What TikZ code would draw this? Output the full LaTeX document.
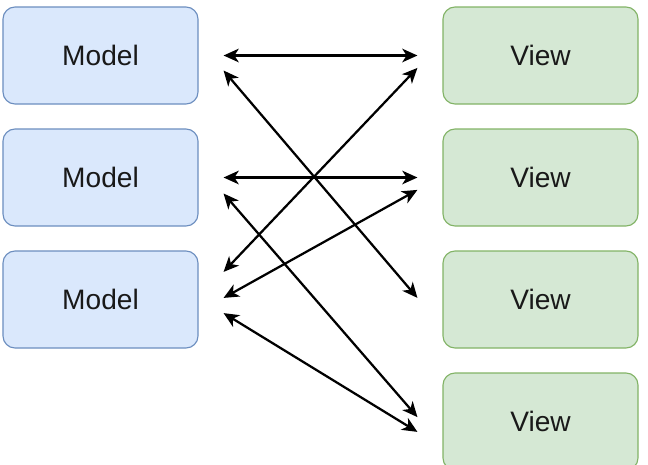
\documentclass[tikz,border=0pt]{standalone}
\usepackage{fontspec}
\setmainfont{Liberation Sans}
\usetikzlibrary{arrows.meta}
\definecolor{modelfill}{HTML}{DAE8FC}
\definecolor{modeldraw}{HTML}{6C8EBF}
\definecolor{viewfill}{HTML}{D5E8D4}
\definecolor{viewdraw}{HTML}{82B366}
\def\models{1,2,3}
\def\views{1,2,3,4}

\begin{document}
\begin{tikzpicture}[box/.style={rounded corners=0.3cm, line width=0.8pt,
                      minimum width=4.875cm, minimum height=2.425cm, inner sep=0pt,
                      font=\fontsize{20}{24}\selectfont, text=black!90},
                    model/.style={box, draw=modeldraw, fill=modelfill},
                    view/.style={box, draw=viewdraw, fill=viewfill},
                    link/.style={{Stealth[length=3.8mm,width=3.4mm,inset=1.1mm]}-{Stealth[length=3.8mm,width=3.4mm,inset=1.1mm]},
                      line width=1.6pt}]
  \useasboundingbox (0,0) rectangle (16.2,-11.6);

  % loop over the "model" boxes
  \foreach \i in \models {%one row every 3.05cm
    \node[model] (m\i) at (2.5125,{-1.3875-3.05*(\i-1)}) {Model};
  }

  % loop over the "view" boxes
  \foreach \i in \views {%one row every 3.05cm
    \node[view] (v\i) at (13.5125,{-1.3875-3.05*(\i-1)}) {View};
  }

  \draw[link] ([shift={(0.625,0)}]m1.east) -- ([shift={(-0.625,0)}]v1.west);
  \draw[link] ([shift={(0.625,-0.375)}]m1.east) -- ([shift={(-0.625,0.04)}]v3.west);
  \draw[link] ([shift={(0.625,0)}]m2.east) -- ([shift={(-0.625,0)}]v2.west);
  \draw[link] ([shift={(0.625,-0.4)}]m2.east) -- ([shift={(-0.625,0.11)}]v4.west);
  \draw[link] ([shift={(0.625,0.69)}]m3.east) -- ([shift={(-0.625,-0.31)}]v1.west);
  \draw[link] ([shift={(0.625,0.04)}]m3.east) -- ([shift={(-0.625,-0.31)}]v2.west);
  \draw[link] ([shift={(0.625,-0.34)}]m3.east) -- ([shift={(-0.625,-0.26)}]v4.west);
\end{tikzpicture}
\end{document}
